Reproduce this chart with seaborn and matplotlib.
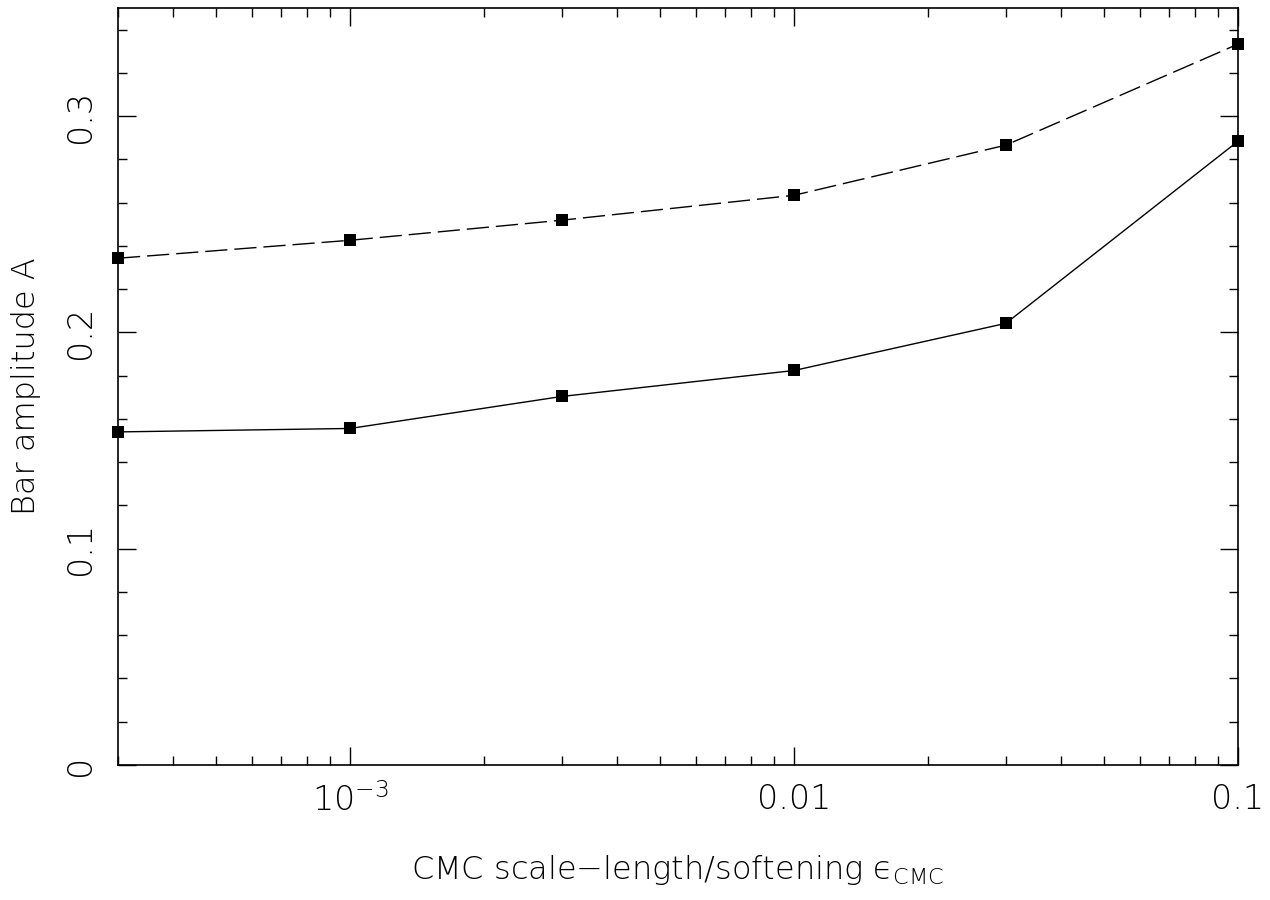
import numpy as np
import pandas as pd
import matplotlib
matplotlib.use("Agg")
import matplotlib.pyplot as plt
import seaborn as sns
from matplotlib.ticker import FixedLocator, MultipleLocator, LogLocator, NullFormatter

# data
eps_cmc = [3e-4, 1e-3, 3e-3, 0.01, 0.03, 0.1]
amp_solid = [0.154, 0.1556, 0.1704, 0.1824, 0.2042, 0.2884]
amp_dashed = [0.2343, 0.2426, 0.2519, 0.2634, 0.2866, 0.3333]

x_ticks = [1e-3, 0.01, 0.1]
x_tick_labels = [r"$\mathregular{10^{-3}}$", "0.01", "0.1"]
y_ticks = [0, 0.1, 0.2, 0.3]
y_tick_labels = ["0", "0.1", "0.2", "0.3"]

df = pd.DataFrame({
    "eps": eps_cmc * 2,
    "A": amp_solid + amp_dashed,
    "run": ["solid"] * 6 + ["dashed"] * 6,
})

sns.set_style("ticks")
plt.rcParams["font.family"] = ["DejaVu Sans"]
plt.rcParams["font.weight"] = "light"
plt.rcParams["axes.labelweight"] = "light"
plt.rcParams["mathtext.fontset"] = "dejavusans"

fig = plt.figure(figsize=(12.7, 9), dpi=100)
ax = fig.add_axes([118 / 1270, 135 / 900, 1120 / 1270, 757 / 900])

sns.lineplot(data=df[df.run == "solid"], x="eps", y="A", ax=ax, color="black",
             lw=1.0, marker="s", markersize=8.5, markeredgewidth=0, clip_on=False)
sns.lineplot(data=df[df.run == "dashed"], x="eps", y="A", ax=ax, color="black",
             lw=1.0, marker="s", markersize=8.5, markeredgewidth=0, clip_on=False)
ax.lines[-1].set_dashes((16, 5))

ax.set_xscale("log")
ax.set_xlim(3e-4, 0.1)
ax.set_ylim(0, 0.35)

ax.xaxis.set_major_locator(FixedLocator(x_ticks))
ax.set_xticklabels(x_tick_labels)
ax.xaxis.set_minor_locator(LogLocator(base=10, subs=np.arange(2, 10)))
ax.xaxis.set_minor_formatter(NullFormatter())
ax.yaxis.set_major_locator(FixedLocator(y_ticks))
ax.set_yticklabels(y_tick_labels, rotation=90, va="center")
ax.yaxis.set_minor_locator(MultipleLocator(0.02))

ax.tick_params(which="both", direction="in", top=True, right=True,
               labelsize=24, width=1.0, color="black", labelcolor="black")
ax.tick_params(which="major", length=13)
ax.tick_params(which="minor", length=6.5)
ax.tick_params(axis="y", which="major", pad=15)
ax.tick_params(axis="x", which="major", pad=13)

for s in ax.spines.values():
    s.set_linewidth(1.2)
    s.set_color("black")

ax.set_xlabel("CMC scale\u2212length/softening \u03f5$_\\mathregular{CMC}$",
              fontsize=23, labelpad=25, color="black")
ax.set_ylabel("Bar amplitude A", fontsize=23, labelpad=17, color="black")
if ax.get_legend():
    ax.get_legend().remove()

fig.savefig("out.png", dpi=100)
